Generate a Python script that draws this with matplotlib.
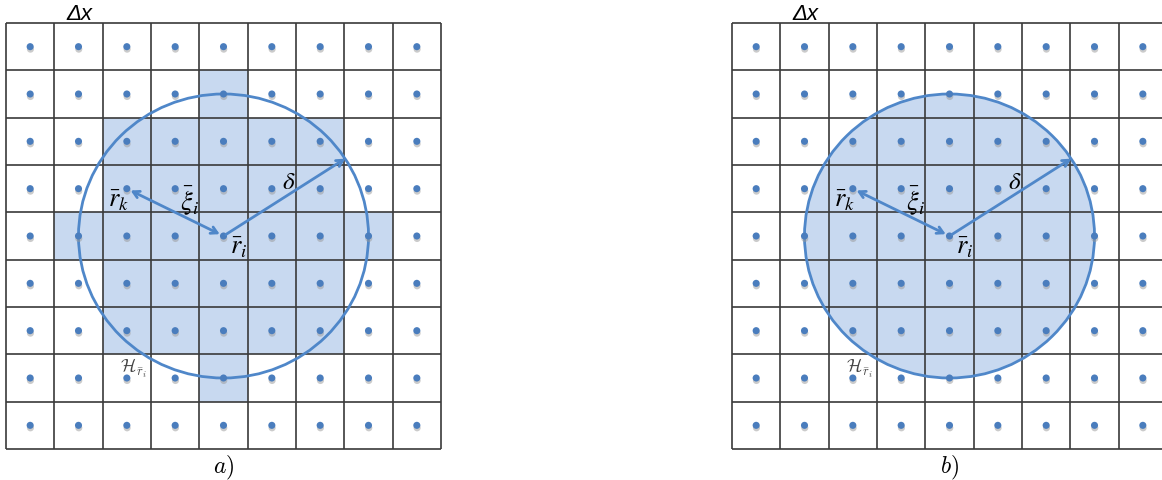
import numpy as np
import matplotlib.pyplot as plt
from matplotlib.patches import Rectangle, Ellipse
import matplotlib.patheffects as pe

N_CELLS = 9              # 9x9 lattice of cells
CENTER_CELL = (4, 4)     # (col, row) of r_i
NEIGHBOR_CELL = (2, 3)   # (col, row) of r_k
HORIZON = 3.0            # delta, in cells
DELTA_ANGLE = 33         # direction of the delta arrow (deg)

# panel a): cells covered by the discrete horizon, row -> first/last col
shaded_rows = [1, 2, 3, 4, 5, 6, 7]
shaded_first = [4, 2, 2, 1, 2, 2, 4]
shaded_last = [4, 6, 6, 7, 6, 6, 4]

panel_labels = ['a)', 'b)']

BLUE = '#4f87c9'
DOT = '#4a7dbd'
SHADE = '#c8d9f0'
GRID = '#3a3a3a'

fig = plt.figure(figsize=(11.62, 4.81), dpi=100)

# axes placed in pixels of the 1162x481 picture
W, H = 1162, 481
ax_a = fig.add_axes([6 / W, 31 / H, 435 / W, 426 / H])
ax_b = fig.add_axes([732 / W, 31 / H, 435 / W, 426 / H])


def draw_panel(ax, label, filled):
    ax.set_xlim(0, N_CELLS)
    ax.set_ylim(N_CELLS, 0)
    ax.axis('off')

    cx, cy = CENTER_CELL[0] + 0.5, CENTER_CELL[1] + 0.5
    kx, ky = NEIGHBOR_CELL[0] + 0.5, NEIGHBOR_CELL[1] + 0.5

    if filled:
        ax.add_patch(Ellipse((cx, cy), 2 * HORIZON, 2 * HORIZON,
                             facecolor=SHADE, edgecolor='none', zorder=1))
    else:
        for r, c0, c1 in zip(shaded_rows, shaded_first, shaded_last):
            ax.add_patch(Rectangle((c0, r), c1 - c0 + 1, 1,
                                   facecolor=SHADE, edgecolor='none', zorder=1))

    # grid
    ticks = np.arange(N_CELLS + 1)
    ax.vlines(ticks, 0, N_CELLS, color=GRID, lw=1.2, zorder=2, clip_on=False)
    ax.hlines(ticks, 0, N_CELLS, color=GRID, lw=1.2, zorder=2, clip_on=False)

    # horizon circle
    ax.add_patch(Ellipse((cx, cy), 2 * HORIZON, 2 * HORIZON,
                         facecolor='none', edgecolor=BLUE, lw=2.0, zorder=3))

    # material points at cell centres
    gx, gy = np.meshgrid(np.arange(N_CELLS) + 0.5, np.arange(N_CELLS) + 0.5)
    pts = ax.scatter(gx.ravel(), gy.ravel(), s=26, color=DOT, zorder=4,
                     linewidths=0)
    pts.set_path_effects([pe.SimplePatchShadow(offset=(0.2, -1.8),
                                               shadow_rgbFace='#999999',
                                               alpha=0.5),
                          pe.Normal()])

    # r_i <-> r_k
    ax.annotate('', xy=(kx, ky), xytext=(cx, cy), zorder=5,
                arrowprops=dict(arrowstyle='<->,head_length=0.45,head_width=0.25',
                                color=BLUE, lw=2.0, shrinkA=3, shrinkB=3))
    # delta
    a = np.deg2rad(DELTA_ANGLE)
    ex, ey = cx + HORIZON * np.cos(a), cy - HORIZON * np.sin(a)
    ax.annotate('', xy=(ex, ey), xytext=(cx, cy), zorder=5,
                arrowprops=dict(arrowstyle='->,head_length=0.45,head_width=0.25',
                                color=BLUE, lw=2.0, shrinkA=2, shrinkB=0))

    ax.text(2.32, 3.72, r'$\bar{r}_k$', fontsize=19, math_fontfamily='stix',
            ha='center', va='center', zorder=6)
    ax.text(3.80, 3.72, r'$\bar{\xi}_i$', fontsize=19, math_fontfamily='stix',
            ha='center', va='center', zorder=6)
    ax.text(4.82, 4.71, r'$\bar{r}_i$', fontsize=19, math_fontfamily='stix',
            ha='center', va='center', zorder=6)
    ax.text(5.86, 3.34, r'$\delta$', fontsize=18, math_fontfamily='stix',
            ha='center', va='center', zorder=6)
    ax.text(2.63, 7.27, r'$\mathcal{H}_{\bar{r}_i}$', fontsize=13,
            math_fontfamily='cm', color='#444444',
            ha='center', va='center', zorder=6)
    ax.text(1.52, -0.2, 'Δx', fontsize=16, family='Liberation Sans',
            style='italic', ha='center', va='center', clip_on=False)
    ax.text(4.5, 9.37, '$' + label + '$', fontsize=17, math_fontfamily='cm',
            ha='center', va='center', clip_on=False)


draw_panel(ax_a, panel_labels[0], filled=False)
draw_panel(ax_b, panel_labels[1], filled=True)

fig.savefig('out.png', dpi=100)
